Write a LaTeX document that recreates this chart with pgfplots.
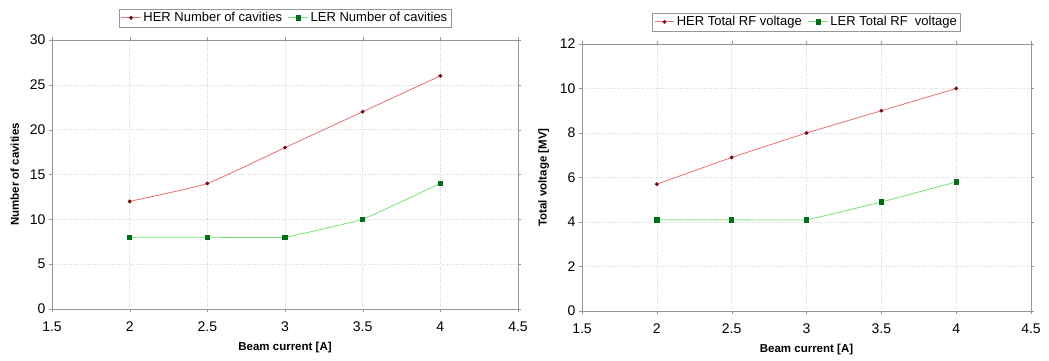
\documentclass[border=0pt]{standalone}
\usepackage{pgfplots}
\pgfplotsset{compat=1.18}
\usepackage{fontspec}
\setmainfont{Liberation Sans}
\definecolor{herline}{RGB}{236,110,110}
\definecolor{hermark}{RGB}{110,10,20}
\definecolor{lerline}{RGB}{120,225,120}
\definecolor{lermark}{RGB}{0,110,20}
\definecolor{frame}{RGB}{150,150,150}
\definecolor{gridc}{RGB}{215,215,215}
\pgfplotsset{
  mystyle/.style={
    scale only axis,
    xmin=1.5, xmax=4.5, ymin=0,
    xtick={1.5,2,2.5,3,3.5,4,4.5},
    /pgf/number format/assume math mode=true,
    xticklabel style={font=\fontsize{14bp}{16bp}\selectfont, yshift=-6bp, /pgf/number format/.cd, fixed, precision=1},
    yticklabel style={font=\fontsize{14bp}{16bp}\selectfont},
    tick align=outside,
    major tick length=3bp,
    tick style={frame},
    axis line style={frame},
    grid=major,
    major grid style={gridc, dotted},
    xlabel={\bfseries Beam current [A]},
    xlabel style={font=\fontsize{11.5bp}{13bp}\selectfont, yshift=-4bp},
    ylabel style={font=\fontsize{11.5bp}{13bp}\selectfont, yshift=4bp},
    legend columns=2,
    legend style={at={(0.5,1)}, anchor=south, yshift=13bp, draw=frame,
      font=\fontsize{13bp}{15bp}\selectfont, inner sep=1.5bp,
      /tikz/every even column/.append style={column sep=4bp}},
    legend image code/.code={
      \draw[mark repeat=2,mark phase=2] plot coordinates {(0cm,0cm) (0.35cm,0cm) (0.7cm,0cm)};},
  },
  her/.style={herline, line width=0.8pt, smooth, tension=0.25, mark=*, mark size=1.5bp, mark options={fill=hermark, draw=hermark}},
  ler/.style={lerline, line width=0.8pt, smooth, tension=0.12, mark=square*, mark size=2.2bp, mark options={fill=lermark, draw=lermark}},
}
\begin{document}
\begin{tikzpicture}[x=1bp,y=1bp]
\path[use as bounding box] (0,0) rectangle (1049,360);
\begin{axis}[mystyle, at={(52bp,51bp)}, anchor=south west,
  width=466bp, height=269bp, ymax=30, ytick={0,5,10,15,20,25,30},
  ylabel={\bfseries Number of cavities}]
\addplot[her] coordinates {(2,12) (2.5,14) (3,18) (3.5,22) (4,26)};
\addlegendentry{HER Number of cavities}
\addplot[ler] coordinates {(2,8) (2.5,8) (3,8) (3.5,10) (4,14)};
\addlegendentry{LER Number of cavities}
\end{axis}
\begin{axis}[mystyle, at={(582bp,49bp)}, anchor=south west,
  width=449bp, height=267bp, ymax=12, ytick={0,2,4,6,8,10,12},
  ylabel={\bfseries Total voltage [MV]}]
\addplot[her] coordinates {(2,5.7) (2.5,6.9) (3,8.0) (3.5,9.0) (4,10.0)};
\addlegendentry{HER Total RF voltage}
\addplot[ler] coordinates {(2,4.1) (2.5,4.1) (3,4.1) (3.5,4.9) (4,5.8)};
\addlegendentry{LER Total RF\ \ voltage}
\end{axis}
\end{tikzpicture}
\end{document}
